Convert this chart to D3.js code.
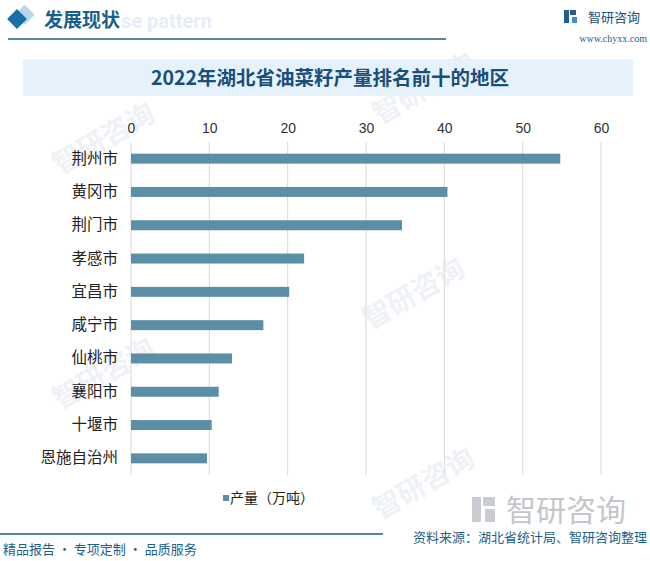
<!DOCTYPE html>
<html><head><meta charset="utf-8">
<script src="https://cdn.jsdelivr.net/npm/d3@7"></script>
<style>
html,body{margin:0;padding:0;background:#fff;}
svg{display:block;font-family:"Noto Sans CJK SC","Noto Sans",sans-serif;}
</style></head>
<body>
<script>
const categories = ["荆州市","黄冈市","荆门市","孝感市","宜昌市","咸宁市","仙桃市","襄阳市","十堰市","恩施自治州"];
const values = [54.8, 40.4, 34.6, 22.1, 20.2, 16.9, 12.9, 11.2, 10.3, 9.7];
const ticks = [0,10,20,30,40,50,60];
const seriesName = "产量（万吨）";
const title = "2022年湖北省油菜籽产量排名前十的地区";

const W = 650, H = 561;
const svg = d3.select("body").append("svg").attr("width", W).attr("height", H);
const dark = "#1a5f8c";

// watermarks
const wm = svg.append("g").attr("fill", "#eef2f6").attr("font-size", 28).attr("font-weight", 700);
[[60,175],[370,330],[60,410],[380,125],[380,520]].forEach(([x,y])=>{
  wm.append("text").attr("transform",`translate(${x},${y}) rotate(-30)`).text("智研咨询");
});

// header
svg.append("rect").attr("x",16).attr("y",12).attr("width",14).attr("height",14)
  .attr("fill","#b9d6ea").attr("transform","rotate(45 29 19)");
svg.append("rect").attr("x",10).attr("y",12).attr("width",14).attr("height",14)
  .attr("fill","#1a6fa8").attr("transform","rotate(45 17 19)");
svg.append("text").attr("x",121).attr("y",28).attr("font-size",20).attr("font-weight",700)
  .attr("fill","#e3eef8").attr("font-family","Roboto, sans-serif").text("se pattern");
svg.append("text").attr("x",44).attr("y",27).attr("font-size",19).attr("font-weight",700)
  .attr("fill",dark).text("发展现状");
svg.append("line").attr("x1",8).attr("x2",446).attr("y1",39).attr("y2",39).attr("stroke",dark).attr("stroke-width",1.5);
// logo
const lg = svg.append("g");
lg.append("rect").attr("x",564).attr("y",10).attr("width",5).attr("height",13).attr("fill","#2a5a8c");
lg.append("rect").attr("x",570).attr("y",10).attr("width",6).attr("height",5).attr("fill","#2a5a8c");
lg.append("rect").attr("x",572).attr("y",17).attr("width",5).attr("height",6).attr("fill","#3d8fd1");
svg.append("text").attr("x",588).attr("y",22).attr("font-size",13).attr("fill","#1a4f7a").text("智研咨询");
svg.append("text").attr("x",647).attr("y",42).attr("text-anchor","end").attr("font-size",10)
  .attr("font-family","Liberation Serif, serif").attr("fill","#2a5a8c").text("www.chyxx.com");

// title band
svg.append("rect").attr("x",23).attr("y",59).attr("width",610).attr("height",37).attr("fill","#e6f2fb");
svg.append("text").attr("x",330).attr("y",85).attr("text-anchor","middle").attr("font-size",19.5)
  .attr("font-weight",700).attr("fill","#1a4f7a").text(title);

// chart
const x = d3.scaleLinear().domain([0,60]).range([131,601]);
const y = d3.scaleBand().domain(categories).range([142,475]).paddingInner(0.7).paddingOuter(0.35);

const grid = svg.append("g");
grid.selectAll("line").data(ticks).join("line")
  .attr("x1",d=>x(d)).attr("x2",d=>x(d)).attr("y1",142).attr("y2",475)
  .attr("stroke","#d9d9d9").attr("stroke-width",1);

const xAxis = svg.append("g").attr("transform","translate(0,133)")
  .call(d3.axisTop(x).tickValues(ticks).tickSize(0).tickPadding(0));
xAxis.select(".domain").remove();
xAxis.selectAll("text").attr("font-size",14).attr("fill","#333").attr("font-family","Liberation Sans Narrow, Liberation Sans, sans-serif");

svg.append("g").selectAll("rect").data(values).join("rect")
  .attr("x",x(0)).attr("y",(d,i)=>y(categories[i]))
  .attr("width",d=>x(d)-x(0)).attr("height",y.bandwidth())
  .attr("fill","#5b8fa6");

const yAxis = svg.append("g").attr("transform",`translate(${x(0)-13},0)`)
  .call(d3.axisLeft(y).tickSize(0).tickPadding(0));
yAxis.select(".domain").remove();
yAxis.selectAll("text").attr("font-size",15.5).attr("fill","#222").attr("font-family","Noto Sans CJK SC, sans-serif");

// legend
svg.append("rect").attr("x",223).attr("y",495).attr("width",6).attr("height",6).attr("fill","#5b8fa6");
svg.append("text").attr("x",230).attr("y",503).attr("font-size",14).attr("fill","#222").text(seriesName);

// footer logo watermark
const fl = svg.append("g").attr("fill","#c9ccd0");
fl.append("rect").attr("x",472).attr("y",497).attr("width",9).attr("height",25);
fl.append("rect").attr("x",483).attr("y",497).attr("width",12).attr("height",9);
fl.append("rect").attr("x",485).attr("y",509).attr("width",10).attr("height",13);
svg.append("text").attr("x",506).attr("y",521).attr("font-size",30).attr("fill","#c3c6ca").text("智研咨询");

// footer
svg.append("line").attr("x1",0).attr("x2",383).attr("y1",534).attr("y2",534).attr("stroke",dark).attr("stroke-width",1.5);
svg.append("text").attr("x",3).attr("y",554).attr("font-size",13).attr("fill",dark).text("精品报告 · 专项定制 · 品质服务");
svg.append("text").attr("x",647).attr("y",542).attr("text-anchor","end").attr("font-size",13).attr("fill",dark).text("资料来源：湖北省统计局、智研咨询整理");
</script>
</body></html>
